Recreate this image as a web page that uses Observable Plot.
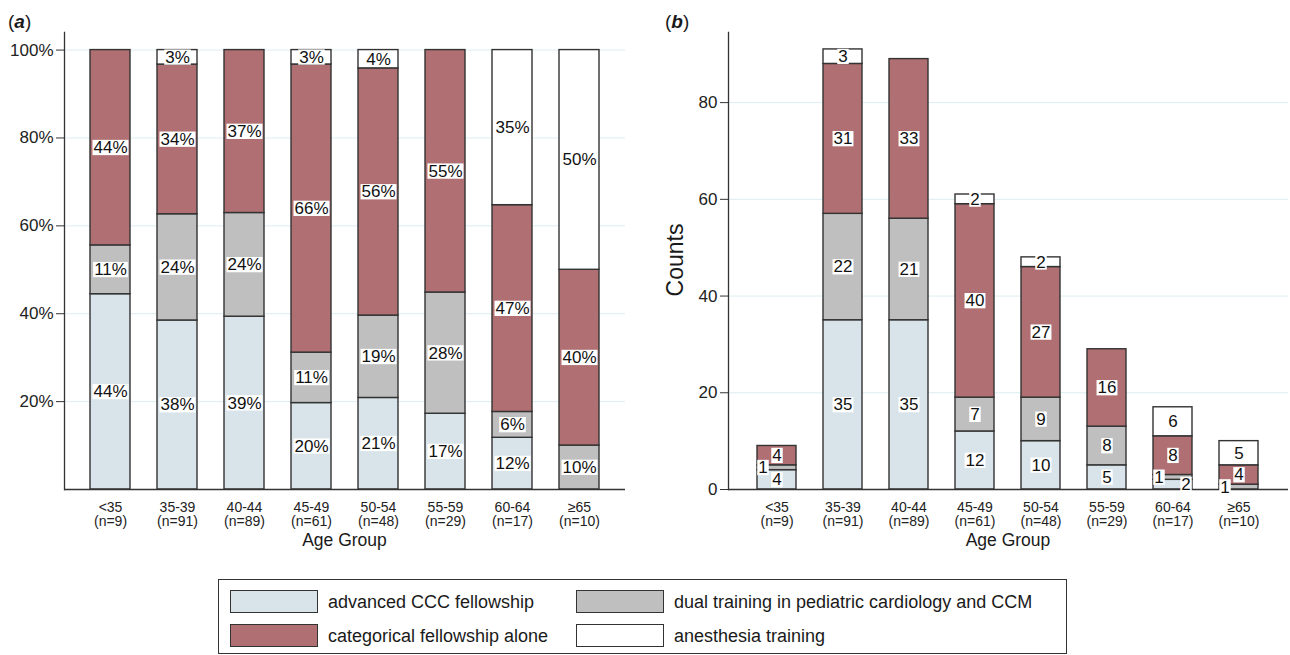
<!DOCTYPE html>
<html><head><meta charset="utf-8">
<script src="https://cdn.jsdelivr.net/npm/d3@7"></script>
<script src="https://cdn.jsdelivr.net/npm/@observablehq/plot@0.6"></script>
<style>
body{margin:0;background:#fff;font-family:"Liberation Sans",Arial,sans-serif;}
#wrap{position:relative;width:1290px;height:655px;overflow:hidden;}
.panel{position:absolute;top:0;}
.t{position:absolute;color:#1a1a1a;white-space:nowrap;line-height:1;}
.legend{position:absolute;left:218px;top:579px;width:847px;height:73px;border:1.3px solid #333;box-sizing:content-box;}
.sw{position:absolute;width:86px;height:21px;border:1.4px solid #333;}
.lt{position:absolute;font-size:18px;color:#1a1a1a;white-space:nowrap;line-height:1;transform:translateY(-50%);}
</style></head><body><div id="wrap"></div>
<script>
// ---- data ----
const ageGroups = ["<35","35-39","40-44","45-49","50-54","55-59","60-64","≥65"];
const types = ["advanced CCC fellowship","dual training in pediatric cardiology and CCM","categorical fellowship alone","anesthesia training"];
const advanced    = [4,35,35,12,10,5,2,0];
const dual        = [1,22,21,7,9,8,1,1];
const categorical = [4,31,33,40,27,16,8,4];
const anesthesia  = [0,3,0,2,2,0,6,5];
const colors = ["#d8e4ea","#bfbfbf","#b06f72","#ffffff"];
const pctTicks = [20,40,60,80,100];
const countTicks = [0,20,40,60,80];

const series = [advanced, dual, categorical, anesthesia];
const nByAge = ageGroups.map((a,i)=>d3.sum(series, s=>s[i]));
const rows = [];
ageGroups.forEach((age,i)=>{
  const n = nByAge[i];
  let c = 0;
  types.forEach((type,k)=>{
    const count = series[k][i];
    const next = k<3 ? series[k+1][i] : null;
    let shift = 0;
    if (count===1) shift = -14;
    else if (count===2 && next===1) shift = 13;
    rows.push({age, type, count, c0:c, c1:c+count, cmid:c+count/2,
      p0:c/n*100, p1:(c+count)/n*100, pmid:(c+count/2)/n*100,
      pctLabel: Math.round(count/n*100)+"%", cntLabel: String(count), shift});
    c += count;
  });
});
const nz = rows.filter(d=>d.count>0);
const font = '"Liberation Sans", Arial, sans-serif';

function panel({width, marginLeft, marginRight, ymax, lo, hi, mid, labelKey, ticks, fmt, useShift}) {
  const textMarks = useShift
    ? [-14,0,13].map(s=>Plot.text(nz.filter(d=>d.shift===s), {x:"age", y:mid, text:labelKey, dx:s, fontSize:17, fill:"#111"}))
    : [Plot.text(nz, {x:"age", y:mid, text:labelKey, fontSize:17, fill:"#111"})];
  return Plot.plot({
    width, height:560, marginTop:32, marginBottom:71, marginLeft, marginRight,
    style:{fontFamily:font, fontSize:"17px", color:"#222", background:"transparent"},
    x:{domain:ageGroups, paddingInner:0.403, paddingOuter:0.388, label:null},
    y:{domain:[0,ymax], label:null},
    color:{domain:types, range:colors},
    marks:[
      Plot.gridY(ticks.filter(t=>t>0), {stroke:"#dcedf1", strokeOpacity:1}),
      Plot.barY(nz, {x:"age", y1:lo, y2:hi, fill:"type", stroke:"#333", strokeWidth:1.4}),
      Plot.ruleY([0], {stroke:"#333", strokeWidth:1.3}),
      Plot.frame({anchor:"left", stroke:"#333", strokeWidth:1.3}),
      Plot.axisY({ticks, tickSize:8, tickPadding:3, tickFormat:fmt, fontSize:17, stroke:"#333"}),
      Plot.axisX({tickSize:0, tickPadding:13, fontSize:14, label:null,
        tickFormat: a => a + "\n(n=" + nByAge[ageGroups.indexOf(a)] + ")"}),
      ...textMarks
    ]
  });
}

const wrap = document.getElementById("wrap");
const pa = panel({width:640, marginLeft:64, marginRight:15, ymax:104, lo:"p0", hi:"p1", mid:"pmid",
  labelKey:"pctLabel", ticks:pctTicks, fmt:d=>d+"%", useShift:false});
const pb = panel({width:650, marginLeft:88, marginRight:2, ymax:94.5, lo:"c0", hi:"c1", mid:"cmid",
  labelKey:"cntLabel", ticks:countTicks, fmt:d=>String(d), useShift:true});
pa.classList.add("panel"); pa.style.left="0px";
pb.classList.add("panel"); pb.style.left="640px";
wrap.appendChild(pa); wrap.appendChild(pb);

// white boxes behind segment labels
for (const svg of [pa,pb]) {
  svg.querySelectorAll('g[aria-label="text"] text').forEach(t=>{
    if (!t.textContent) return;
    const bb = t.getBBox();
    const fs = 17, h = fs*0.9;
    const cy = bb.y + bb.height/2 - 0.01*fs;
    const r = document.createElementNS("http://www.w3.org/2000/svg","rect");
    r.setAttribute("x", bb.x-1); r.setAttribute("width", bb.width+2);
    r.setAttribute("y", cy-h/2); r.setAttribute("height", h);
    r.setAttribute("fill","#fff");
    const tr = t.getAttribute("transform"); if (tr) r.setAttribute("transform", tr);
    t.parentNode.insertBefore(r, t);
  });
}

function addText(html, left, top, size, extra) {
  const d = document.createElement("div");
  d.className = "t"; d.innerHTML = html;
  d.style.left = left+"px"; d.style.top = top+"px"; d.style.fontSize = size+"px";
  d.style.transform = extra || "translate(-50%,-50%)";
  wrap.appendChild(d);
}
addText("(<b><i>a</i></b>)", 8, 21, 19, "translate(0,-50%)");
addText("(<b><i>b</i></b>)", 665, 21, 19, "translate(0,-50%)");
addText("Age Group", 344.5, 541, 17.5);
addText("Age Group", 1008, 541, 17.5);
addText("Counts", 675, 260, 23, "translate(-50%,-50%) rotate(-90deg)");

// legend
const lg = document.createElement("div"); lg.className="legend"; wrap.appendChild(lg);
const pos = [[11,10],[357,10],[11,44],[357,44]];
const order = [0,1,2,3];
order.forEach((k,i)=>{
  const [x,y] = pos[i];
  const sw = document.createElement("div"); sw.className="sw";
  sw.style.left=x+"px"; sw.style.top=y+"px"; sw.style.background=colors[k];
  lg.appendChild(sw);
  const tx = document.createElement("div"); tx.className="lt"; tx.textContent = types[k];
  tx.style.left=(x+98)+"px"; tx.style.top=(y+12)+"px";
  lg.appendChild(tx);
});
</script></body></html>
